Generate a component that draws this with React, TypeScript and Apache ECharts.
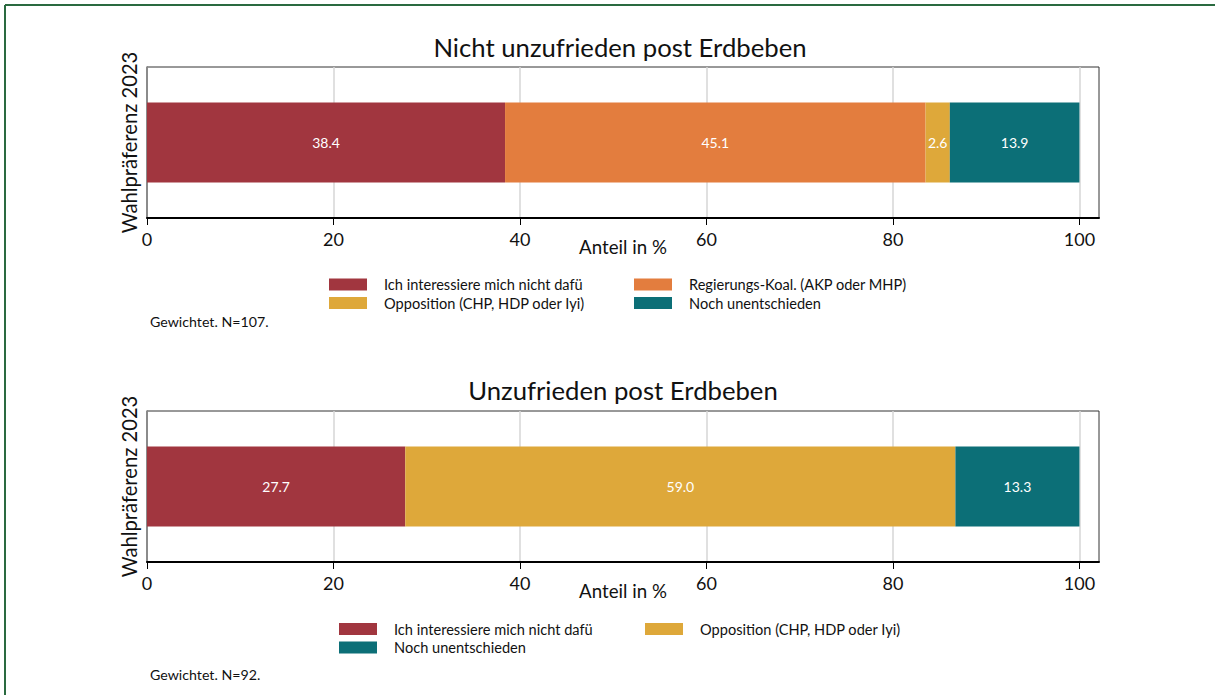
import React, { useEffect, useRef } from "react";
import * as echarts from "echarts";

const FONT = "Lato, 'Open Sans', sans-serif";

const namesTop = [
  "Ich interessiere mich nicht dafü",
  "Regierungs-Koal. (AKP oder MHP)",
  "Opposition (CHP, HDP oder Iyi)",
  "Noch unentschieden",
];
const valuesTop = [38.4, 45.1, 2.6, 13.9];
const colorsTop = ["#a1363f", "#e37d3e", "#dea83a", "#0c6f77"];

const namesBottom = [
  "Ich interessiere mich nicht dafü",
  "Opposition (CHP, HDP oder Iyi)",
  "Noch unentschieden",
];
const valuesBottom = [27.7, 59.0, 13.3];
const colorsBottom = ["#a1363f", "#dea83a", "#0c6f77"];

const tickValues = [0, 20, 40, 60, 80, 100];
const titleTop = "Nicht unzufrieden post Erdbeben";
const titleBottom = "Unzufrieden post Erdbeben";
const noteTop = "Gewichtet. N=107.";
const noteBottom = "Gewichtet. N=92.";
const xName = "Anteil in %";
const yName = "Wahlpräferenz 2023";

const GRID_LEFT = 147;
const GRID_WIDTH = 952;
const AXIS_MAX = 102.1;

function makeAxes(gridIndex: number) {
  const xAxis = {
    type: "value",
    gridIndex,
    min: 0,
    max: AXIS_MAX,
    interval: 20,
    name: xName,
    nameLocation: "middle",
    nameGap: 19,
    nameMoveOverlap: false,
    nameTextStyle: { fontFamily: FONT, fontSize: 18.7, color: "#111" },
    axisLine: { show: true, lineStyle: { color: "#000", width: 2 } },
    axisTick: { show: true, length: 7, customValues: tickValues, lineStyle: { color: "#000", width: 1 } },
    axisLabel: {
      customValues: tickValues,
      margin: 12,
      fontFamily: FONT,
      fontSize: 18,
      color: "#111",
      formatter: (v: number) => String(v),
    },
    splitLine: { show: true, lineStyle: { color: "#d6d6d6", width: 1.5 } },
  };
  const yAxis = {
    type: "category",
    gridIndex,
    data: ["Wahl"],
    name: yName,
    nameLocation: "middle",
    nameRotate: 90,
    nameGap: 8,
    nameMoveOverlap: false,
    nameTextStyle: { fontFamily: FONT, fontSize: 20.2, color: "#111" },
    axisLine: { show: true, lineStyle: { color: "#777", width: 1.5 } },
    axisTick: { show: false },
    axisLabel: { show: false },
    splitLine: { show: false },
  };
  return { xAxis, yAxis };
}

function makeSeries(names: string[], values: number[], colors: string[], idx: number) {
  return names.map((name, i) => ({
    type: "bar",
    name,
    xAxisIndex: idx,
    yAxisIndex: idx,
    stack: "s" + idx,
    barWidth: 80,
    data: [values[i]],
    itemStyle: { color: colors[i] },
    label: {
      show: true,
      position: "inside",
      color: "#fff",
      fontFamily: FONT,
      fontSize: 14,
      formatter: (p: any) => Number(p.value).toFixed(1),
    },
  }));
}

function legend(left: number, top: number, data: string[]) {
  return {
    orient: "vertical",
    left,
    top,
    data,
    icon: "rect",
    itemWidth: 38,
    itemHeight: 12,
    itemGap: 3.5,
    padding: 0,
    selectedMode: false,
    textStyle: {
      fontFamily: FONT,
      fontSize: 14.6,
      lineHeight: 15,
      color: "#111",
      padding: [0, 0, 0, 12],
    },
  };
}

export default function App() {
  const ref = useRef<HTMLDivElement>(null);
  useEffect(() => {
    document.body.style.margin = "0";
    const chart = echarts.init(ref.current!, undefined, { renderer: "svg" });
    const a0 = makeAxes(0);
    const a1 = makeAxes(1);
    chart.setOption({
      animation: false,
      backgroundColor: "#fff",
      title: [
        {
          text: titleTop,
          left: 620,
          top: 34,
          textAlign: "center",
          padding: 0,
          textStyle: { fontFamily: FONT, fontSize: 25.7, fontWeight: "normal", color: "#111" },
        },
        {
          text: titleBottom,
          left: 623,
          top: 377,
          textAlign: "center",
          padding: 0,
          textStyle: { fontFamily: FONT, fontSize: 25.7, fontWeight: "normal", color: "#111" },
        },
      ],
      grid: [
        { left: GRID_LEFT, top: 67, width: GRID_WIDTH, height: 151, show: true, borderColor: "#333", borderWidth: 1 },
        { left: GRID_LEFT, top: 411, width: GRID_WIDTH, height: 151, show: true, borderColor: "#333", borderWidth: 1 },
      ],
      xAxis: [a0.xAxis, a1.xAxis],
      yAxis: [a0.yAxis, a1.yAxis],
      legend: [
        legend(329, 277, [namesTop[0], namesTop[2]]),
        legend(634, 277, [namesTop[1], namesTop[3]]),
        legend(339, 621.5, [namesBottom[0], namesBottom[2]]),
        legend(645, 621.5, [namesBottom[1]]),
      ],
      series: [
        ...makeSeries(namesTop, valuesTop, colorsTop, 0),
        ...makeSeries(namesBottom, valuesBottom, colorsBottom, 1),
      ],
      graphic: [
        { type: "line", shape: { x1: 5, y1: 5, x2: 5, y2: 700 }, style: { stroke: "#2a6a40", lineWidth: 2 } },
        { type: "line", shape: { x1: 5, y1: 5, x2: 1220, y2: 5 }, style: { stroke: "#2a6a40", lineWidth: 2 } },
        {
          type: "text",
          left: 150,
          top: 314,
          style: { text: noteTop, fontFamily: FONT, fontSize: 14.2, fill: "#111" },
        },
        {
          type: "text",
          left: 150,
          top: 667,
          style: { text: noteBottom, fontFamily: FONT, fontSize: 14.2, fill: "#111" },
        },
      ],
    });
    return () => chart.dispose();
  }, []);
  return (
    <div
      ref={ref}
      style={{ position: "absolute", left: 0, top: 0, width: 1215, height: 695 }}
    />
  );
}
